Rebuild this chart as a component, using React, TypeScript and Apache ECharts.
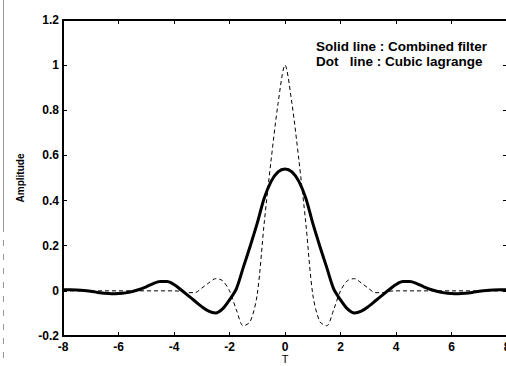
import React, { useEffect, useRef } from "react";
import * as echarts from "echarts";

const T = [
  -8, -7.75, -7.5, -7.25, -7, -6.75, -6.5, -6.25, -6, -5.75, -5.5, -5.25, -5, -4.75, -4.5, -4.25,
  -4, -3.75, -3.5, -3.25, -3, -2.75, -2.5, -2.25, -2, -1.75, -1.5, -1.25, -1, -0.75, -0.5, -0.25,
  0,
  0.25, 0.5, 0.75, 1, 1.25, 1.5, 1.75, 2, 2.25, 2.5, 2.75, 3, 3.25, 3.5, 3.75,
  4, 4.25, 4.5, 4.75, 5, 5.25, 5.5, 5.75, 6, 6.25, 6.5, 6.75, 7, 7.25, 7.5, 7.75, 8,
];

const combinedFilter = [
  0.005, 0.005, 0.004, 0.002, -0.002, -0.007, -0.011, -0.013, -0.012, -0.009, -0.003, 0.006, 0.018, 0.032, 0.041, 0.041,
  0.028, 0.005, -0.02, -0.045, -0.07, -0.09, -0.098, -0.08, -0.04, 0.01, 0.105, 0.2, 0.3, 0.41, 0.485, 0.527,
  0.54,
  0.527, 0.485, 0.41, 0.3, 0.2, 0.105, 0.01, -0.04, -0.08, -0.098, -0.09, -0.07, -0.045, -0.02, 0.005,
  0.028, 0.041, 0.041, 0.032, 0.018, 0.006, -0.003, -0.009, -0.012, -0.013, -0.011, -0.007, -0.002, 0.002, 0.004, 0.005, 0.005,
];

const cubicLagrange = [
  0, 0, 0, 0, 0, 0, 0, 0, 0, 0, 0, 0, 0, 0, 0, 0,
  0, -0.002, -0.008, -0.008, 0.012, 0.035, 0.054, 0.045, 0.0, -0.085, -0.155, -0.135, -0.015, 0.3, 0.58, 0.83,
  1.0,
  0.83, 0.58, 0.3, -0.015, -0.135, -0.155, -0.085, 0.0, 0.045, 0.054, 0.035, 0.012, -0.008, -0.008, -0.002,
  0, 0, 0, 0, 0, 0, 0, 0, 0, 0, 0, 0, 0, 0, 0, 0, 0,
];

const xTicks = { min: -8, max: 8, interval: 2 };
const yTicks = { min: -0.2, max: 1.2, interval: 0.2 };

const legendLines = ["Solid line : Combined filter", "Dot   line : Cubic lagrange"];

export default function App() {
  const ref = useRef<HTMLDivElement>(null);

  useEffect(() => {
    if (!ref.current) return;
    const chart = echarts.init(ref.current, undefined, { renderer: "svg" });
    const font = "'Liberation Sans', Arial, sans-serif";
    const axisLine = { show: true, onZero: false, lineStyle: { color: "#000", width: 2 } };
    const axisTick = { show: true, inside: true, length: 4, lineStyle: { color: "#000", width: 1 } };
    chart.setOption({
      animation: false,
      backgroundColor: "#fff",
      grid: { left: 63, top: 20, width: 444, height: 316, containLabel: false, outerBoundsMode: "none" },
      xAxis: [
        {
          type: "value",
          ...xTicks,
          position: "bottom",
          name: "T",
          nameLocation: "middle",
          nameGap: 17,
          nameMoveOverlap: false,
          nameTextStyle: { color: "#000", fontSize: 11, fontFamily: font, lineHeight: 11 },
          axisLine,
          axisTick,
          splitLine: { show: false },
          axisLabel: { color: "#000", fontSize: 12, fontFamily: font, fontWeight: "bold", margin: 5 },
        },
        {
          type: "value",
          ...xTicks,
          position: "top",
          axisLine,
          axisTick,
          splitLine: { show: false },
          axisLabel: { show: false },
        },
      ],
      yAxis: [
        {
          type: "value",
          ...yTicks,
          position: "left",
          name: "Amplitude",
          nameLocation: "middle",
          nameGap: 38,
          nameRotate: 90,
          nameMoveOverlap: false,
          nameTextStyle: { color: "#000", fontSize: 10, fontFamily: font, fontWeight: "bold" },
          axisLine,
          axisTick,
          splitLine: { show: false },
          axisLabel: { color: "#000", fontSize: 12, fontFamily: font, fontWeight: "bold", margin: 4 },
        },
        {
          type: "value",
          ...yTicks,
          position: "right",
          axisLine,
          axisTick,
          splitLine: { show: false },
          axisLabel: { show: false },
        },
      ],
      series: [
        {
          type: "line",
          name: "Cubic lagrange",
          data: T.map((t, i) => [t, cubicLagrange[i]]),
          smooth: 0.3,
          showSymbol: false,
          lineStyle: { color: "#000", width: 1, type: [4, 3] },
        },
        {
          type: "line",
          name: "Combined filter",
          data: T.map((t, i) => [t, combinedFilter[i]]),
          smooth: 0.3,
          showSymbol: false,
          lineStyle: { color: "#000", width: 3 },
        },
      ],
      graphic: [
        {
          type: "line",
          shape: { x1: 3.5, y1: 0, x2: 3.5, y2: 226 },
          style: { stroke: "#999", lineWidth: 1 },
        },
        {
          type: "line",
          shape: { x1: 3.5, y1: 226, x2: 3.5, y2: 366 },
          style: { stroke: "#999", lineWidth: 1, lineDash: [6, 8] },
        },
        ...legendLines.map((txt, i) => ({
          type: "text",
          left: 316,
          top: 39 + i * 15,
          style: {
            text: txt,
            fill: "#000",
            font: `bold 13.5px ${font}`,
          },
        })),
      ],
    });
    return () => chart.dispose();
  }, []);

  return (
    <div
      ref={ref}
      style={{ position: "fixed", left: 0, top: 0, width: 506, height: 366 }}
    />
  );
}
